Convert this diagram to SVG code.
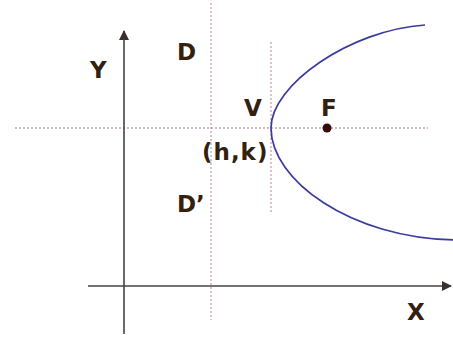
<svg xmlns="http://www.w3.org/2000/svg" width="453" height="339" viewBox="0 0 453 339">
<style>
.lbl{font-family:"DejaVu Sans",Verdana,sans-serif;font-weight:bold;font-size:23px;fill:#33200f}
.axis{stroke:#4a4242;stroke-width:1.6;fill:none}
.dot{stroke:#c8a2a8;stroke-width:1.3;stroke-dasharray:2 2;fill:none}
</style>
<defs>
<marker id="ah" viewBox="0 0 10 10" refX="9" refY="5" markerWidth="10" markerHeight="10" markerUnits="userSpaceOnUse" orient="auto">
<path d="M0,0 L10,5 L0,10 Z" fill="#3a3030"/>
</marker>
</defs>
<rect width="453" height="339" fill="#ffffff"/>
<g id="connectors">
<line class="dot" x1="15" y1="128" x2="428" y2="128"/>
<line class="dot" x1="211" y1="3" x2="211" y2="320"/>
<line class="dot" x1="271" y1="42" x2="271" y2="212"/>
<line class="axis" x1="124" y1="334" x2="124" y2="31" marker-end="url(#ah)"/>
<line class="axis" x1="88" y1="286" x2="451" y2="286" marker-end="url(#ah)"/>
</g>
<g id="parabola">
<path d="M425,25 C350,30 271,85 271,128 C271,180 350,238 455,240" fill="none" stroke="#3b3b9e" stroke-width="1.7"/>
</g>
<g id="focus">
<circle cx="327" cy="128" r="4.5" fill="#3a0a0a"/>
<text class="lbl" x="321" y="116">F</text>
</g>
<g id="vertex">
<text class="lbl" x="244" y="116">V</text>
<text class="lbl" x="202" y="160" letter-spacing="1">(h,k)</text>
</g>
<g id="directrix">
<text class="lbl" x="177" y="60">D</text>
<text class="lbl" x="177" y="212">D’</text>
</g>
<g id="labels">
<text class="lbl" x="90" y="78">Y</text>
<text class="lbl" x="407" y="320">X</text>
</g>
</svg>
